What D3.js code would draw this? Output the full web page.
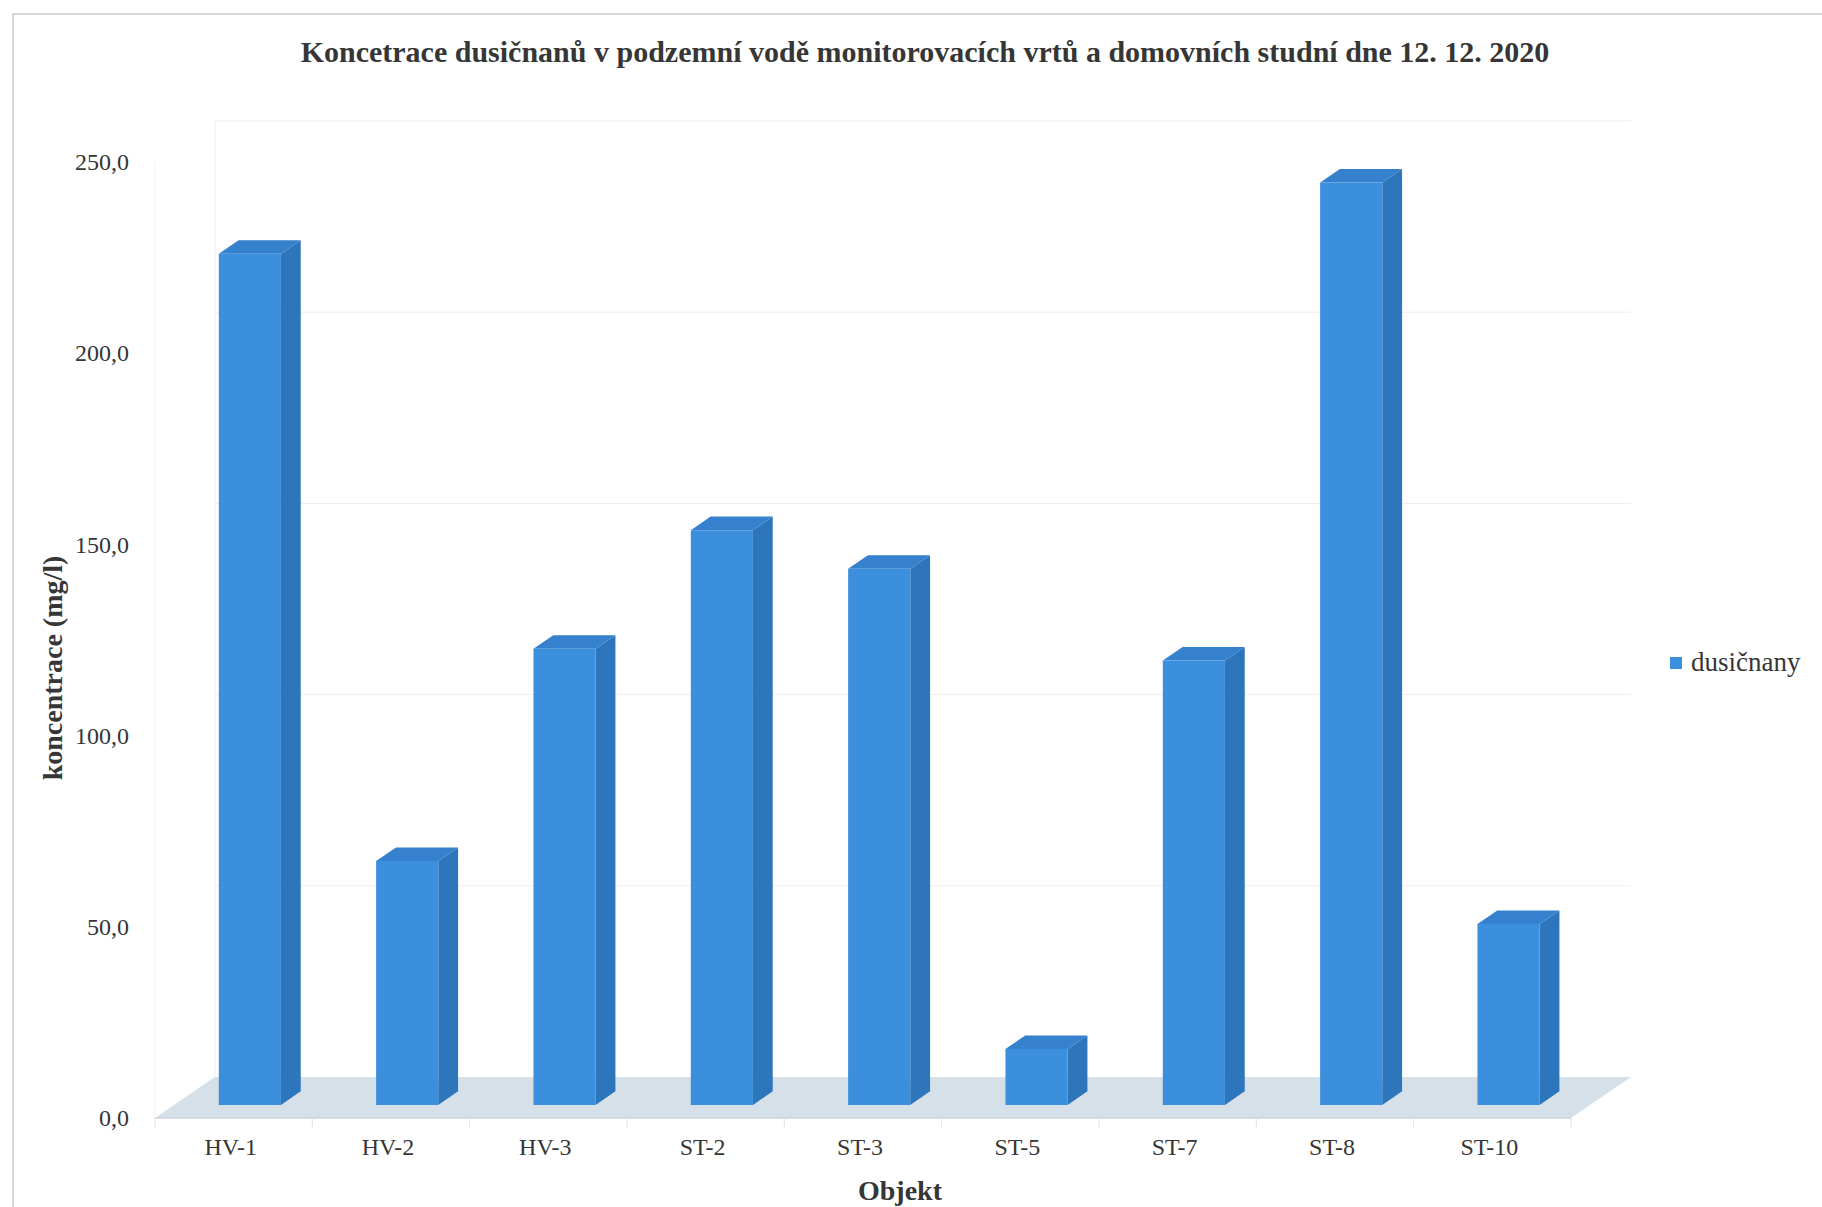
<!DOCTYPE html>
<html>
<head>
<meta charset="utf-8">
<script src="https://cdn.jsdelivr.net/npm/d3@7"></script>
<style>
  html, body { margin: 0; padding: 0; background: #ffffff; }
  svg { display: block; }
  text { font-family: "Liberation Serif", "Times New Roman", serif; fill: #363636; }
</style>
</head>
<body>
<svg id="chart" width="1822" height="1207"></svg>
<script>
// Nitrate concentrations per monitoring well / domestic well
const categories = ["HV-1", "HV-2", "HV-3", "ST-2", "ST-3", "ST-5", "ST-7", "ST-8", "ST-10"];
const values = [222.6, 63.8, 119.3, 150.3, 140.2, 14.6, 116.2, 241.2, 47.3];
const yTicks = [0, 50, 100, 150, 200, 250];
const seriesName = "dusičnany";
const titleText = "Koncetrace dusičnanů v podzemní vodě monitorovacích vrtů a domovních studní dne 12. 12. 2020";
const yTitle = "koncentrace (mg/l)";
const xTitle = "Objekt";

const svg = d3.select("#chart");

// Front plane of the 3D box
const front = { left: 155, right: 1571, bottom: 1118, top: 162 };
// Oblique depth vector (front edge -> back wall)
const depth = { dx: 60, dy: -41 };
const barDepth = { near: 0.32, far: 0.65 };

const x = d3.scaleBand().domain(categories).range([front.left, front.right]).padding(0);
const y = d3.scaleLinear().domain([0, 250]).range([front.bottom, front.top]);

const proj = (px, v, d) => [px + d * depth.dx, y(v) + d * depth.dy];
const poly = pts => "M" + pts.map(p => p.join(",")).join("L") + "Z";

// Outer chart border
svg.append("path")
  .attr("d", "M13,1207 L13,14 L1822,14")
  .attr("fill", "none").attr("stroke", "#d6d6d6").attr("stroke-width", 2);

// Title
svg.append("text")
  .attr("x", 925).attr("y", 62)
  .attr("text-anchor", "middle")
  .attr("font-size", 30).attr("font-weight", "bold")
  .text(titleText);

const g = svg.append("g");

// Back wall gridlines and wall edges
const grid = g.append("g").attr("stroke", "#eeeeee").attr("stroke-width", 1).attr("fill", "none");
yTicks.filter(t => t > 0).forEach(t => {
  grid.append("path").attr("d", "M" + proj(front.left, t, 1) + "L" + proj(front.right, t, 1));
});
grid.append("path").attr("d", "M" + proj(front.left, 0, 0) + "L" + proj(front.left, 250, 0)).attr("stroke", "#f3f3f3");
grid.append("path").attr("d", "M" + proj(front.left, 0, 1) + "L" + proj(front.left, 250, 1));

// Floor
g.append("path")
  .attr("d", poly([proj(front.left, 0, 0), proj(front.right, 0, 0), proj(front.right, 0, 1), proj(front.left, 0, 1)]))
  .attr("fill", "#d6e0e9");
g.append("path")
  .attr("d", "M" + proj(front.left, 0, 0) + "L" + proj(front.right, 0, 0))
  .attr("stroke", "#cbd5de").attr("stroke-width", 1.5);

// Category tick marks along the front edge
g.append("g").selectAll("line")
  .data(d3.range(categories.length + 1))
  .join("line")
  .attr("x1", i => front.left + i * x.step()).attr("x2", i => front.left + i * x.step())
  .attr("y1", front.bottom).attr("y2", front.bottom + 9)
  .attr("stroke", "#e0e0e0").attr("stroke-width", 1);

// 3D columns
const barW = x.bandwidth() * 0.395;
const data = categories.map((c, i) => ({ c, v: values[i] }));
const bars = g.append("g").selectAll("g").data(data).join("g");

const xl = d => x(d.c) + x.bandwidth() / 2 - barW / 2 - 3;
const xr = d => xl(d) + barW;

bars.append("path") // right side face
  .attr("d", d => poly([proj(xr(d), 0, barDepth.near), proj(xr(d), 0, barDepth.far),
                        proj(xr(d), d.v, barDepth.far), proj(xr(d), d.v, barDepth.near)]))
  .attr("fill", "#2e76bc");
bars.append("path") // top face
  .attr("d", d => poly([proj(xl(d), d.v, barDepth.near), proj(xr(d), d.v, barDepth.near),
                        proj(xr(d), d.v, barDepth.far), proj(xl(d), d.v, barDepth.far)]))
  .attr("fill", "#3581cd");
bars.append("path") // front face
  .attr("d", d => poly([proj(xl(d), 0, barDepth.near), proj(xr(d), 0, barDepth.near),
                        proj(xr(d), d.v, barDepth.near), proj(xl(d), d.v, barDepth.near)]))
  .attr("fill", "#3b8fdc");

// Value axis labels
const fmt = v => d3.format(".1f")(v).replace(".", ",");
const yAxis = d3.axisLeft(y).tickValues(yTicks).tickFormat(fmt).tickSize(0).tickPadding(0);
const yg = svg.append("g").attr("transform", "translate(129,0)").call(yAxis);
yg.select(".domain").remove();
yg.selectAll("text").attr("font-size", 24).attr("font-family", "Liberation Serif, serif").attr("fill", "#363636");

// Category axis labels
const xAxis = d3.axisBottom(x).tickSize(0).tickPadding(0);
const xg = svg.append("g").attr("transform", "translate(-3," + (front.bottom + 20) + ")").call(xAxis);
xg.select(".domain").remove();
xg.selectAll("text").attr("font-size", 24).attr("font-family", "Liberation Serif, serif").attr("fill", "#363636");

// Axis titles
svg.append("text")
  .attr("transform", "translate(62,668) rotate(-90)")
  .attr("text-anchor", "middle")
  .attr("font-size", 28).attr("font-weight", "bold")
  .text(yTitle);
svg.append("text")
  .attr("x", 900).attr("y", 1200)
  .attr("text-anchor", "middle")
  .attr("font-size", 28).attr("font-weight", "bold")
  .text(xTitle);

// Legend
const lg = svg.append("g").attr("transform", "translate(1670,657)");
lg.append("rect").attr("width", 12).attr("height", 12).attr("fill", "#3b8fdc");
lg.append("text").attr("x", 21).attr("y", 14).attr("font-size", 27).text(seriesName);
</script>
</body>
</html>
